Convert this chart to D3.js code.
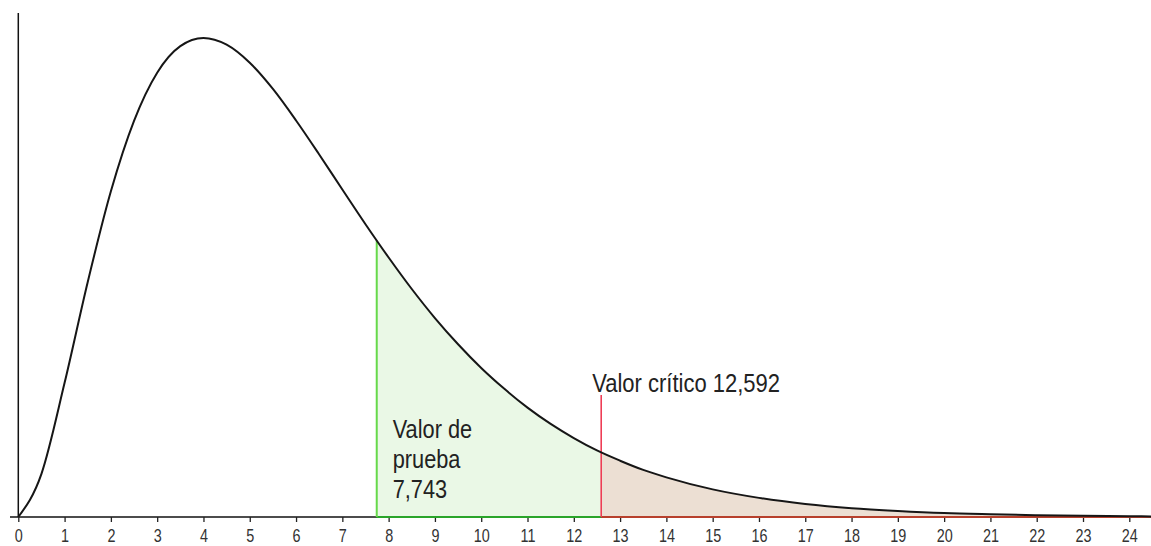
<!DOCTYPE html>
<html><head><meta charset="utf-8">
<script src="https://cdn.jsdelivr.net/npm/d3@7"></script>
<style>body{margin:0;background:#fff}svg{display:block}</style>
</head><body>
<svg id="c" width="1151" height="546"></svg>
<script>
// Curve values (density)
const xs = [0,0.5,1,1.5,2,2.5,3,3.5,4,4.5,5,5.5,6,6.5,7,7.5,8,8.5,9,9.5,10,10.5,11,11.5,12,12.5,13,13.5,14,15,16,17,18,19,20,21,22,23,24,24.5];
const ys = [0,0.0122,0.0379,0.0664,0.0920,0.1119,0.1255,0.1330,0.1353,0.1334,0.1283,0.1209,0.1120,0.1024,0.0925,0.0827,0.0733,0.0644,0.0562,0.0488,0.0421,0.0362,0.0309,0.0263,0.0223,0.0188,0.0159,0.0133,0.0112,0.0078,0.0054,0.0037,0.0025,0.0017,0.0011,0.00076,0.0005,0.00033,0.00022,0.00017];
const testValue = 7.743, testDensity = 0.0781;
const critValue = 12.592, critDensity = 0.0183;
const tickValues = d3.range(0,25);
const critLabel = "Valor crítico 12,592";
const testLabel = ["Valor de","prueba","7,743"];

const FONT = "'Liberation Sans',Arial,sans-serif";
const svg = d3.select("#c");
const x = d3.scaleLinear().domain([0,24]).range([18.3,1129.3]);
const y = d3.scaleLinear().domain([0,0.1353]).range([517,38]);
const pts = xs.map((v,i)=>[v,ys[i]]);

function segment(a,b,da,db){
  const inner = pts.filter(p=>p[0]>a && p[0]<b);
  return [[a,da],...inner,[b,db]];
}
const area = d3.area().x(d=>x(d[0])).y0(y(0)).y1(d=>y(d[1])).curve(d3.curveMonotoneX);
const line = d3.line().x(d=>x(d[0])).y(d=>y(d[1])).curve(d3.curveMonotoneX);

const green = segment(testValue, critValue, testDensity, critDensity);
const red = segment(critValue, 24.5, critDensity, ys[ys.length-1]);

svg.append("path").attr("d",area(green)).attr("fill","#eaf8e6");
svg.append("path").attr("d",area(red)).attr("fill","#ecdfd3");

// axes
svg.append("line").attr("x1",x(0)).attr("x2",x(0)).attr("y1",13).attr("y2",y(0)).attr("stroke","#111").attr("stroke-width",1.5);
svg.append("line").attr("x1",10).attr("x2",1151).attr("y1",y(0)).attr("y2",y(0)).attr("stroke","#111").attr("stroke-width",1.5);
const ax = svg.append("g").attr("transform",`translate(0,${y(0)})`)
  .call(d3.axisBottom(x).tickValues(tickValues).tickSize(5).tickSizeOuter(0).tickFormat(d3.format("d")));
ax.select(".domain").remove();
ax.selectAll(".tick line").attr("stroke","#222").attr("stroke-width",1.3);
ax.selectAll(".tick text").attr("y",0).attr("dy",0)
  .attr("transform","translate(0,25) scale(0.8,1)")
  .attr("font-family",FONT).attr("font-size",18).attr("fill","#333");

// region bottoms
svg.append("line").attr("x1",x(testValue)).attr("x2",x(critValue)).attr("y1",y(0)).attr("y2",y(0)).attr("stroke","#2aa52a").attr("stroke-width",2);
svg.append("line").attr("x1",x(critValue)).attr("x2",1151).attr("y1",y(0)).attr("y2",y(0)).attr("stroke","#b8402c").attr("stroke-width",2);

// verticals
svg.append("line").attr("x1",x(testValue)).attr("x2",x(testValue)).attr("y1",y(testDensity)).attr("y2",y(0)).attr("stroke","#66d94a").attr("stroke-width",2);
svg.append("line").attr("x1",x(critValue)).attr("x2",x(critValue)).attr("y1",395).attr("y2",y(0)).attr("stroke","#ee3d55").attr("stroke-width",1.6);

// curve
svg.append("path").attr("d",line(pts)).attr("fill","none").attr("stroke","#161616").attr("stroke-width",2);

// labels
svg.append("text").attr("transform",`translate(${x(critValue)-9},392) scale(0.88,1)`).text(critLabel)
  .attr("font-family",FONT).attr("font-size",25).attr("fill","#222");
svg.append("g").selectAll("text").data(testLabel).join("text")
  .attr("transform",(d,i)=>`translate(${x(testValue)+16},${438+i*30}) scale(0.87,1)`).text(d=>d)
  .attr("font-family",FONT).attr("font-size",25).attr("fill","#222");
</script>
</body></html>
